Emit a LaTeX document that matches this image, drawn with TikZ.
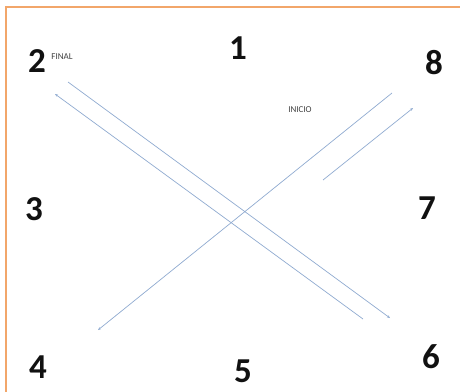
\documentclass[tikz,border=0pt]{standalone}
\usepackage{fontspec}
\setmainfont{Carlito}
\usetikzlibrary{arrows.meta}
\definecolor{frame}{HTML}{F2A66A}
\definecolor{trail}{HTML}{8FAAD0}
\definecolor{ink}{HTML}{111111}
\tikzset{
  num/.style  ={font=\fontsize{35}{38}\selectfont\bfseries,text=ink,inner sep=0pt},
  tag/.style  ={font=\fontsize{9}{10}\selectfont,text=black!75,inner sep=0pt},
  trk/.style  ={-{Stealth[length=3pt,width=2.5pt]},line width=.7pt,trail},
}

\begin{document}
\begin{tikzpicture}[x=1pt,y=-1pt]
  \useasboundingbox (0,0) rectangle (460,391);
  \clip (0,0) rectangle (460,391);
  \draw[frame,line width=2pt] (6,7) rectangle (480,410);
  % positions
  \node[num] (p1) at (238,48)  {1};
  \node[num] (p2) at (37,61)   {2};
  \node[num] (p3) at (34,209)  {3};
  \node[num] (p4) at (38,367)  {4};
  \node[num] (p5) at (243,371) {5};
  \node[num] (p6) at (431,357) {6};
  \node[num] (p7) at (427,208) {7};
  \node[num] (p8) at (434,63)  {8};
  \node[tag] (fin) at (62,57)  {FINAL};
  \node[tag] (ini) at (300,110) {INICIO};
  % path ends
  \coordinate (d0) at (323,180); \coordinate (d1) at (413,108);
  \coordinate (c0) at (392,93);  \coordinate (c1) at (98,330);
  \coordinate (a0) at (68,82);   \coordinate (a1) at (390,318);
  \coordinate (b0) at (363,319); \coordinate (b1) at (55,94);
  \draw[trk] (d0) -- (d1);
  \draw[trk] (c0) -- (c1);
  \draw[trk] (a0) -- (a1);
  \draw[trk] (b0) -- (b1);
\end{tikzpicture}
\end{document}
